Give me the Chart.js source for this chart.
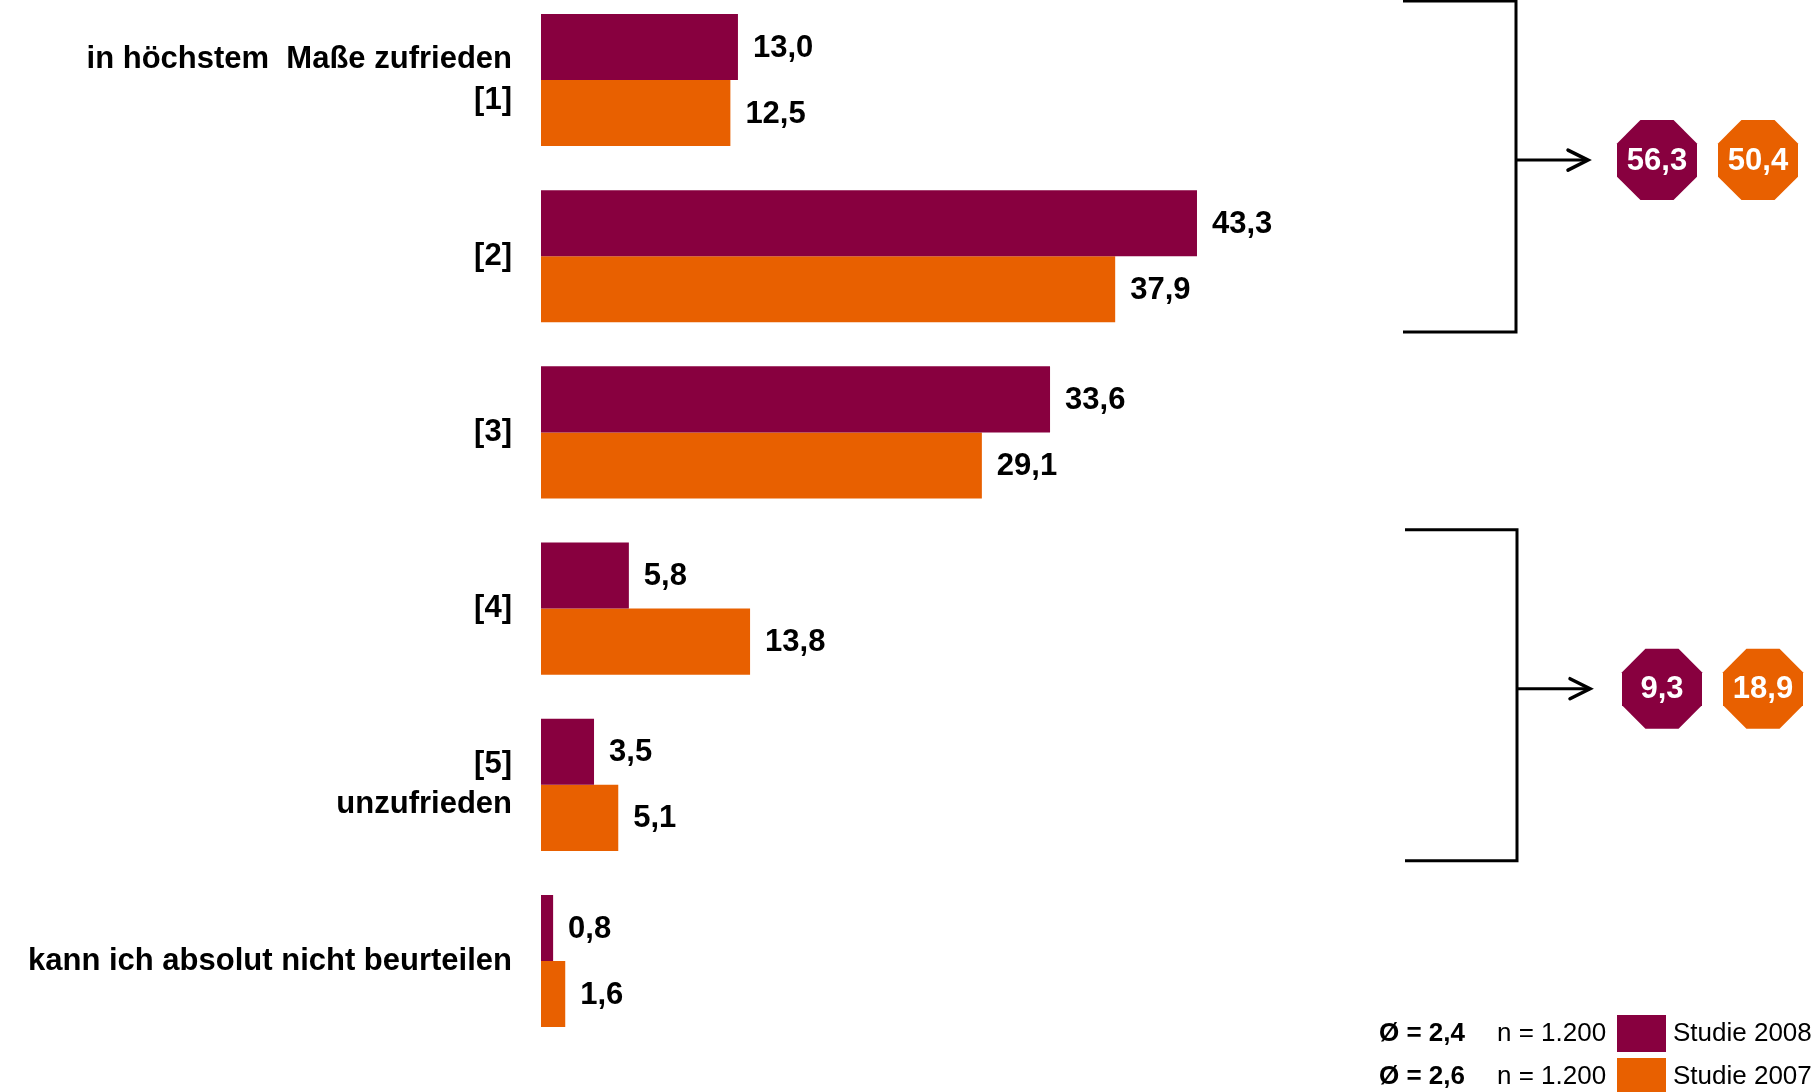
<!DOCTYPE html>
<html lang="de">
<head>
<meta charset="utf-8">
<title>Zufriedenheit – Studie 2008 / Studie 2007</title>
<script src="https://cdn.jsdelivr.net/npm/chart.js@4/dist/chart.umd.min.js"></script>
<style>
  html, body { margin: 0; padding: 0; background: #ffffff; }
  #wrap { width: 1813px; height: 1092px; }
</style>
</head>
<body>
<div id="wrap"><canvas id="chart" width="1813" height="1092"></canvas></div>
<script>
// Answer categories (multi-line labels are arrays)
const categories = [
  ['in höchstem  Maße zufrieden', '[1]'],
  '[2]',
  '[3]',
  '[4]',
  ['[5]', 'unzufrieden'],
  'kann ich absolut nicht beurteilen'
];
const seriesNames = ['Studie 2008', 'Studie 2007'];
const values2008 = [13.0, 43.3, 33.6, 5.8, 3.5, 0.8];
const values2007 = [12.5, 37.9, 29.1, 13.8, 5.1, 1.6];
const meanLabels = ['Ø = 2,4', 'Ø = 2,6'];
const sampleLabels = ['n = 1.200', 'n = 1.200'];
// Category indices summed in the two brackets
const satisfiedGroup = [0, 1];
const dissatisfiedGroup = [3, 4];

const COLORS = ['#88003F', '#E86000'];
const FONT = "'Liberation Sans', Arial, Helvetica, sans-serif";
const fmt = v => v.toFixed(1).replace('.', ',');

function octagon(ctx, cx, cy, apothem, color) {
  const r = apothem / Math.cos(Math.PI / 8);
  ctx.beginPath();
  for (let k = 0; k < 8; k++) {
    const a = Math.PI / 8 + k * Math.PI / 4;
    const px = cx + r * Math.cos(a);
    const py = cy + r * Math.sin(a);
    if (k === 0) ctx.moveTo(px, py); else ctx.lineTo(px, py);
  }
  ctx.closePath();
  ctx.fillStyle = color;
  ctx.fill();
}

function drawBracket(chart, group, geom) {
  const ctx = chart.ctx;
  const yScale = chart.scales.y;
  const y0 = yScale.getPixelForValue(group[0]);
  const y1 = yScale.getPixelForValue(group[group.length - 1]);
  const mid = (y0 + y1) / 2;
  const top = Math.max(mid - 167, 0.5);
  const bottom = mid + 164;
  const ay = mid - 8;

  ctx.save();
  ctx.strokeStyle = '#000';
  ctx.lineWidth = 3;
  ctx.lineJoin = 'miter';
  ctx.beginPath();
  ctx.moveTo(geom.left, top);
  ctx.lineTo(geom.right, top);
  ctx.lineTo(geom.right, bottom);
  ctx.lineTo(geom.left, bottom);
  ctx.stroke();

  ctx.beginPath();
  ctx.moveTo(geom.right, ay);
  ctx.lineTo(geom.arrowEnd, ay);
  ctx.stroke();
  ctx.lineCap = 'round';
  ctx.lineWidth = 3.5;
  ctx.beginPath();
  ctx.moveTo(geom.arrowEnd - 20, ay - 10);
  ctx.lineTo(geom.arrowEnd, ay);
  ctx.lineTo(geom.arrowEnd - 20, ay + 10);
  ctx.stroke();

  chart.data.datasets.forEach((ds, di) => {
    const total = group.reduce((s, i) => s + ds.data[i], 0);
    const cx = geom.octX[di];
    octagon(ctx, cx, ay, 40, ds.backgroundColor);
    ctx.fillStyle = '#ffffff';
    ctx.font = `bold 31px ${FONT}`;
    ctx.textAlign = 'center';
    ctx.textBaseline = 'middle';
    ctx.fillText(fmt(total), cx, ay + 1);
  });
  ctx.restore();
}

const overlay = {
  id: 'overlay',
  afterDatasetsDraw(chart) {
    const ctx = chart.ctx;
    ctx.save();

    // value labels at the end of every bar
    ctx.font = `bold 31px ${FONT}`;
    ctx.fillStyle = '#000';
    ctx.textAlign = 'left';
    ctx.textBaseline = 'middle';
    chart.data.datasets.forEach((ds, di) => {
      chart.getDatasetMeta(di).data.forEach((bar, i) => {
        ctx.fillText(fmt(ds.data[i]), bar.x + 15, bar.y + 1);
      });
    });
    ctx.restore();

    // top-2 and bottom-2 summaries
    drawBracket(chart, satisfiedGroup, { left: 1403, right: 1516, arrowEnd: 1588, octX: [1657, 1758] });
    drawBracket(chart, dissatisfiedGroup, { left: 1405, right: 1517, arrowEnd: 1590, octX: [1662, 1763] });

    // legend with mean and sample size
    ctx.save();
    ctx.textBaseline = 'middle';
    ctx.textAlign = 'left';
    const rowsY = [1034, 1077];
    chart.data.datasets.forEach((ds, di) => {
      const yc = rowsY[di];
      ctx.fillStyle = '#000';
      ctx.font = `bold 26px ${FONT}`;
      ctx.fillText(meanLabels[di], 1379, yc);
      ctx.font = `26px ${FONT}`;
      ctx.fillText(sampleLabels[di], 1497, yc);
      ctx.fillStyle = ds.backgroundColor;
      ctx.fillRect(1617, yc - 19, 49, 37);
      ctx.fillStyle = '#000';
      ctx.fillText(ds.label, 1673, yc);
    });
    ctx.restore();
  }
};

new Chart(document.getElementById('chart'), {
  type: 'bar',
  data: {
    labels: categories,
    datasets: [
      { label: seriesNames[0], data: values2008, backgroundColor: COLORS[0] },
      { label: seriesNames[1], data: values2007, backgroundColor: COLORS[1] }
    ]
  },
  options: {
    indexAxis: 'y',
    responsive: false,
    animation: false,
    devicePixelRatio: 1,
    layout: { padding: { top: 80, bottom: 131, left: 0, right: 363 } },
    datasets: { bar: { categoryPercentage: 0.75, barPercentage: 1.0, borderWidth: 0, clip: false } },
    scales: {
      x: { display: false, min: 0, max: 60 },
      y: {
        offset: false,
        grid: { display: false },
        border: { display: false },
        ticks: {
          color: '#000',
          padding: 21,
          font: { family: FONT, size: 31, weight: 'bold', lineHeight: 1.3 }
        },
        afterFit(scale) { scale.width = 541; }
      }
    },
    plugins: {
      legend: { display: false },
      tooltip: { enabled: false }
    }
  },
  plugins: [overlay]
});
</script>
</body>
</html>
